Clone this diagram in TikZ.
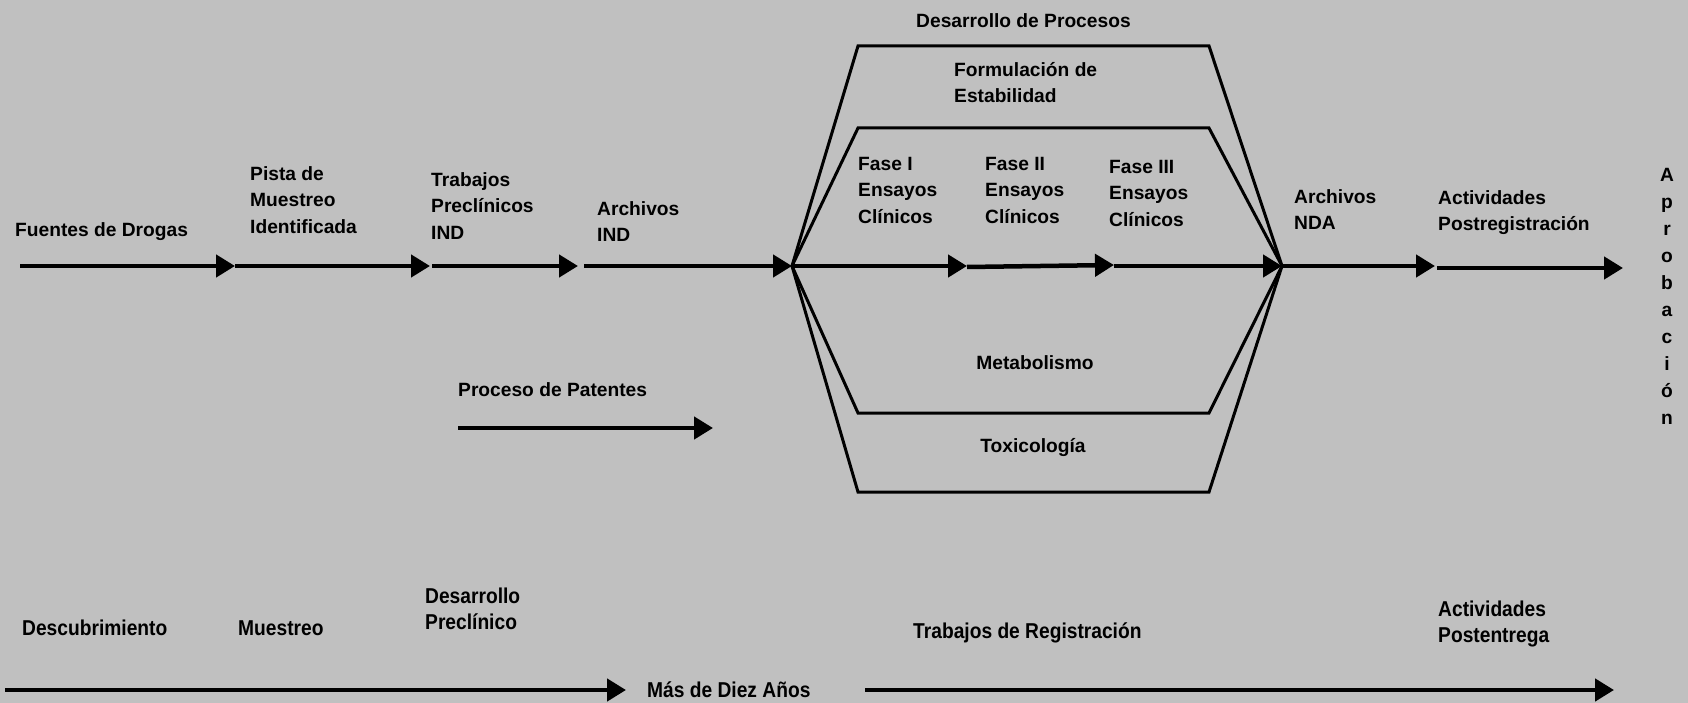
\documentclass[tikz,border=0pt]{standalone}
\usepackage{fontspec}
\setmainfont{Liberation Sans}
\usetikzlibrary{arrows.meta}

\definecolor{fondo}{RGB}{192,192,192}

\tikzset{
  txt/.style={anchor=north west, inner sep=0pt, align=left,
    font=\fontsize{19.2}{26.5}\selectfont\bfseries},
  txtc/.style={txt, anchor=north, align=center},
  txtbajo/.style={txt, yscale=1.12, font=\fontsize{19.2}{23}\selectfont\bfseries},
  flecha/.style={line width=4.5pt, -{Triangle[length=19pt,width=22pt]}},
  trapecio/.style={line width=3pt, line join=miter}
}

\begin{document}
\begin{tikzpicture}[x=1pt,y=-1pt]

\fill[fondo](0,0) rectangle (1688,703);
\useasboundingbox (0,0) rectangle (1688,703);

% linea principal
\coordinate (inicio) at (20,266);
\coordinate (pista) at (235,266);
\coordinate (precl) at (430,266);
\coordinate (precl2) at (432,266);
\coordinate (arch) at (578,266);
\coordinate (arch2) at (584,266);
\coordinate (hubL) at (792,266);
\coordinate (fase1) at (967,266);
\coordinate (fase1b) at (967,267);
\coordinate (fase2) at (1114,265);
\coordinate (fase3) at (1114,266);
\coordinate (hubR) at (1282,266);
\coordinate (nda) at (1435,266);
\coordinate (post) at (1437,268);
\coordinate (aprob) at (1623,268);

\draw[flecha](inicio)--(pista);
\draw[flecha](pista)--(precl);
\draw[flecha](precl2)--(arch);
\draw[flecha](arch2)--(hubL);
\draw[flecha](hubL)--(fase1);
\draw[flecha](fase1b)--(fase2);
\draw[flecha](fase3)--(hubR);
\draw[flecha](hubR)--(nda);
\draw[flecha](post)--(aprob);

% trapecios
\foreach \ly in {46,128,413,492}
  \draw[trapecio](hubL)--(858,\ly)--(1209,\ly)--(hubR);

% patentes
\coordinate (patA) at (458,428);
\coordinate (patB) at (713,428);
\draw[flecha](patA)--(patB);

% linea de tiempo
\coordinate (tA) at (5,690);
\coordinate (tB) at (626,690);
\coordinate (tC) at (865,690);
\coordinate (tD) at (1614,690);
\draw[flecha](tA)--(tB);
\draw[flecha](tC)--(tD);

\node[txt] (fuentes) at (15,222) {Fuentes de Drogas};
\node[txt] (pistatxt) at (250,166) {Pista de\\Muestreo\\Identificada};
\node[txt] (trabajos) at (431,172) {Trabajos\\Precl\'inicos\\IND};
\node[txt] (archind) at (597,201) {Archivos\\IND};
\node[txt] (faseI) at (858,157) {Fase I\\Ensayos\\Cl\'inicos};
\node[txt] (faseII) at (985,157) {Fase II\\Ensayos\\Cl\'inicos};
\node[txt] (faseIII) at (1109,160) {Fase III\\Ensayos\\Cl\'inicos};
\node[txt] (archnda) at (1294,189) {Archivos\\NDA};
\node[txt] (postreg) at (1438,190) {Actividades\\Postregistraci\'on};
\node[txtc, font=\fontsize{19.2}{27}\selectfont\bfseries] (aprobacion) at (1667,168) {A\\p\\r\\o\\b\\a\\c\\i\\\'o\\n};

\node[txt] (procesos) at (916,13) {Desarrollo de Procesos};
\node[txt] (formul) at (954,62) {Formulaci\'on de\\Estabilidad};
\node[txtc] (metab) at (1035,355) {Metabolismo};
\node[txtc] (toxic) at (1033,438) {Toxicolog\'ia};
\node[txt] (patentes) at (458,382) {Proceso de Patentes};

\node[txtbajo] (descub) at (22,620) {Descubrimiento};
\node[txtbajo] (muestreo) at (238,620) {Muestreo};
\node[txtbajo] (despre) at (425,588) {Desarrollo\\Precl\'inico};
\node[txtbajo] (registro) at (913,622) {Trabajos de Registraci\'on};
\node[txtbajo] (postent) at (1438,601) {Actividades\\Postentrega};
\node[txtbajo] (diez) at (647,681) {M\'as de Diez A\~nos};

\end{tikzpicture}
\end{document}
